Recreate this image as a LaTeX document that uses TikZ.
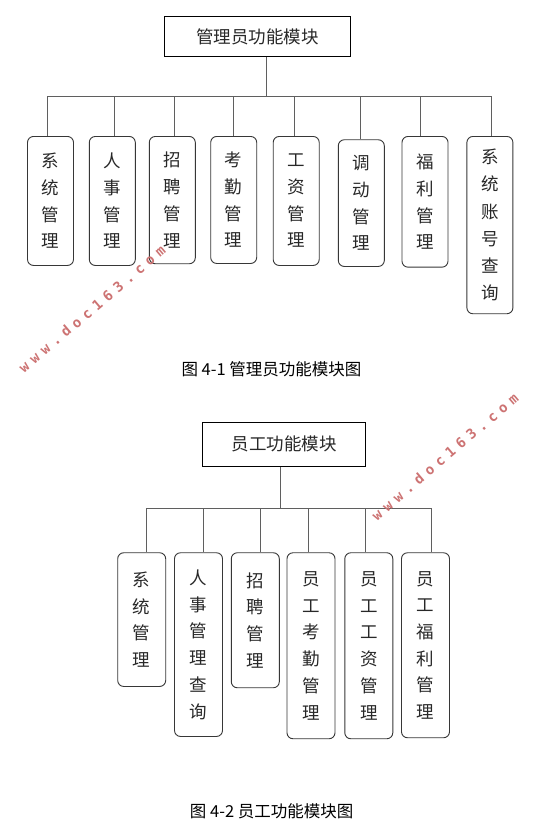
\documentclass[tikz,border=0pt]{standalone}
\usepackage{fontspec}
\newfontfamily\cjk{Noto Sans CJK SC}
\newfontfamily\wmfont[LetterSpace=38]{DejaVu Sans Mono Bold}
\definecolor{wmred}{RGB}{205,115,115}
\definecolor{boxline}{RGB}{55,55,55}
\definecolor{connline}{RGB}{95,95,95}
\definecolor{txt}{RGB}{40,40,40}
\begin{document}
\begin{tikzpicture}[x=1pt,y=-1pt,
  titlebox/.style={draw=black, line width=0.9pt, inner sep=0pt,
    font=\cjk\fontsize{17.5pt}{20pt}\selectfont, text=txt},
  modbox/.style={draw=boxline, line width=0.9pt, rounded corners=6pt, inner sep=0pt,
    anchor=north, align=center, text=txt,
    font=\cjk\fontsize{17.5pt}{26.7pt}\selectfont},
  conn/.style={draw=connline, line width=0.9pt},
  caption/.style={font=\cjk\fontsize{16.5pt}{18pt}\selectfont, text=black, inner sep=0pt},
  wm/.style={font=\wmfont\fontsize{14pt}{16pt}\selectfont, text=wmred, rotate=40.4, inner sep=0pt}]
\useasboundingbox (0,0) rectangle (559,839);
\fill[white] (0,0) rectangle (559,839);

% ---------- Figure 4-1 ----------
\node[titlebox, minimum width=186.4pt, minimum height=40.4pt] (t1) at (257.5,36.5) {管理员功能模块};
\coordinate (s1) at (266,96.5);
\coordinate (d11) at (47.1,96.5);
\coordinate (d12) at (114.1,96.5);
\coordinate (d13) at (174.8,96.5);
\coordinate (d14) at (233.6,96.5);
\coordinate (d15) at (294.6,96.5);
\coordinate (d16) at (360.2,96.5);
\coordinate (d17) at (420.9,96.5);
\coordinate (d18) at (491.5,96.5);

\node[modbox, minimum width=46pt, minimum height=129pt] (a1) at (50.5,136) {系\\统\\管\\理};
\node[modbox, minimum width=46pt, minimum height=129pt] (a2) at (112.3,136) {人\\事\\管\\理};
\node[modbox, minimum width=46pt, minimum height=127.3pt] (a3) at (172.3,136) {招\\聘\\管\\理};
\node[modbox, minimum width=46pt, minimum height=127pt] (a4) at (233.7,136) {考\\勤\\管\\理};
\node[modbox, minimum width=46pt, minimum height=129pt] (a5) at (296.2,136) {工\\资\\管\\理};
\node[modbox, minimum width=46pt, minimum height=126.7pt] (a6) at (361.3,139.3) {调\\动\\管\\理};
\node[modbox, minimum width=46pt, minimum height=130.7pt] (a7) at (425,136) {福\\利\\管\\理};
\node[modbox, minimum width=46pt, minimum height=177.3pt, font=\cjk\fontsize{17.5pt}{27.3pt}\selectfont] (a8) at (489.9,136) {系\\统\\账\\号\\查\\询};

\draw[conn] (t1.south -| s1) -- (s1);
\draw[conn] (d11) -- (d18);
\draw[conn] (d11) -- (a1.north -| d11);
\draw[conn] (d12) -- (a2.north -| d12);
\draw[conn] (d13) -- (a3.north -| d13);
\draw[conn] (d14) -- (a4.north -| d14);
\draw[conn] (d15) -- (a5.north -| d15);
\draw[conn] (d16) -- (a6.north -| d16);
\draw[conn] (d17) -- (a7.north -| d17);
\draw[conn] (d18) -- (a8.north -| d18);

\node[caption] (c1) at (271.5,369) {图 4-1 管理员功能模块图};

% ---------- Figure 4-2 ----------
\node[titlebox, minimum width=163.4pt, minimum height=43.7pt] (t2) at (284,444.2) {员工功能模块};
\coordinate (s2) at (280,508);
\coordinate (d21) at (146,508);
\coordinate (d22) at (203.3,508);
\coordinate (d23) at (260.7,508);
\coordinate (d24) at (308.3,508);
\coordinate (d25) at (365,508);
\coordinate (d26) at (431.7,508);

\node[modbox, minimum width=48pt, minimum height=133.7pt] (b1) at (141.7,552.3) {系\\统\\管\\理};
\node[modbox, minimum width=48pt, minimum height=183.7pt] (b2) at (198.5,552.3) {人\\事\\管\\理\\查\\询};
\node[modbox, minimum width=48pt, minimum height=135pt] (b3) at (255.3,552.3) {招\\聘\\管\\理};
\node[modbox, minimum width=48pt, minimum height=186pt] (b4) at (311,552.3) {员\\工\\考\\勤\\管\\理};
\node[modbox, minimum width=48pt, minimum height=186pt] (b5) at (368.8,552.3) {员\\工\\工\\资\\管\\理};
\node[modbox, minimum width=48pt, minimum height=185pt] (b6) at (425.5,552.3) {员\\工\\福\\利\\管\\理};

\draw[conn] (t2.south -| s2) -- (s2);
\draw[conn] (d21) -- (d26);
\draw[conn] (d21) -- (b1.north -| d21);
\draw[conn] (d22) -- (b2.north -| d22);
\draw[conn] (d23) -- (b3.north -| d23);
\draw[conn] (d24) -- (b4.north -| d24);
\draw[conn] (d25) -- (b5.north -| d25);
\draw[conn] (d26) -- (b6.north -| d26);

\node[caption] (c2) at (271.7,811.7) {图 4-2 员工功能模块图};

% ---------- watermarks ----------
\node[wm] (wm1) at (92,309) {www.doc163.com};
\node[wm] (wm2) at (445,456.5) {www.doc163.com};
\end{tikzpicture}
\end{document}
